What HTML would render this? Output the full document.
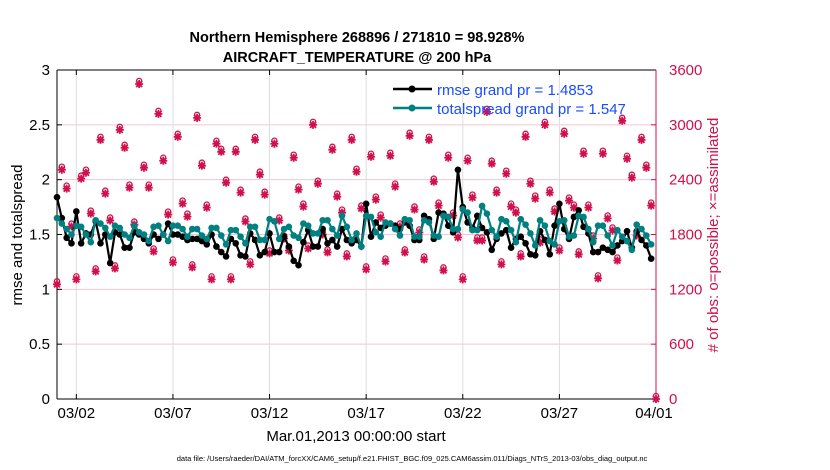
<!DOCTYPE html>
<html><head><meta charset="utf-8"><style>
body{margin:0;background:#fff;}
svg{display:block;font-family:"Liberation Sans",sans-serif;}
</style></head><body>
<svg id="chart" width="830" height="470" xmlns="http://www.w3.org/2000/svg">
<rect width="830" height="470" fill="#fff"/>
<text x="357" y="42" text-anchor="middle" font-size="14.5" font-weight="bold">Northern Hemisphere 268896 / 271810 = 98.928%</text>
<text x="357" y="62" text-anchor="middle" font-size="14.5" font-weight="bold">AIRCRAFT_TEMPERATURE @ 200 hPa</text>
<g id="grid"></g>
<g id="axes"></g>
<g id="marks"></g>
<text transform="translate(22,235) rotate(-90)" text-anchor="middle" font-size="15">rmse and totalspread</text>
<text transform="translate(718,235) rotate(-90)" text-anchor="middle" font-size="15" fill="#d0104c"># of obs: o=possible; ×=assimilated</text>
<text x="356" y="441" text-anchor="middle" font-size="15">Mar.01,2013 00:00:00 start</text>
<text x="412" y="461" text-anchor="middle" font-size="7.5">data file: /Users/raeder/DAI/ATM_forcXX/CAM6_setup/f.e21.FHIST_BGC.f09_025.CAM6assim.011/Diags_NTrS_2013-03/obs_diag_output.nc</text>
<g>
<line x1="393" y1="89" x2="432" y2="89" stroke="#000" stroke-width="2.5"/>
<circle cx="412" cy="89" r="3.5" fill="#000"/>
<text x="437" y="95" font-size="15" fill="#1a4cff">rmse grand pr = 1.4853</text>
<line x1="393" y1="108" x2="432" y2="108" stroke="#008080" stroke-width="2.5"/>
<circle cx="412" cy="108" r="3.5" fill="#008080"/>
<text x="437" y="114" font-size="15" fill="#1a4cff">totalspread grand pr = 1.547</text>
</g>
</svg>
<script>
const xTickLabels=["03/02","03/07","03/12","03/17","03/22","03/27","04/01"];
const xTickDays=[1,6,11,16,21,26,31];
const leftTicks=[0,0.5,1,1.5,2,2.5,3];
const rightTicks=[0,600,1200,1800,2400,3000,3600];
const rmse=[1.84,1.65,1.47,1.42,1.71,1.42,1.51,1.50,1.62,1.42,1.50,1.24,1.52,1.50,1.38,1.38,1.52,1.50,1.46,1.42,1.50,1.46,1.50,1.60,1.50,1.50,1.48,1.45,1.46,1.46,1.44,
1.41,1.50,1.39,1.34,1.30,1.46,1.42,1.31,1.30,1.51,1.45,1.31,1.34,1.51,1.34,1.34,1.48,1.39,1.26,1.22,1.43,1.54,1.39,1.39,1.55,1.42,1.45,1.39,1.55,1.45,1.42,
1.45,1.39,1.78,1.48,1.61,1.56,1.58,1.60,1.58,1.55,1.61,1.58,1.45,1.45,1.67,1.64,1.46,1.70,1.69,1.58,1.52,2.09,1.75,1.61,1.56,1.67,1.56,1.52,1.36,1.46,1.51,
1.54,1.38,1.46,1.48,1.42,1.32,1.31,1.53,1.45,1.32,1.58,1.78,1.55,1.46,1.66,1.72,1.57,1.51,1.34,1.34,1.38,1.36,1.34,1.40,1.44,1.53,1.38,1.53,1.45,1.40,1.28];
const spread=[1.65,1.60,1.55,1.50,1.58,1.57,1.50,1.43,1.63,1.60,1.56,1.48,1.58,1.56,1.50,1.47,1.58,1.52,1.50,1.44,1.57,1.58,1.50,1.44,1.58,1.58,1.55,1.48,1.55,1.55,1.49,
1.46,1.56,1.56,1.49,1.41,1.54,1.54,1.48,1.42,1.57,1.57,1.45,1.45,1.64,1.62,1.46,1.55,1.57,1.49,1.47,1.60,1.58,1.51,1.51,1.63,1.63,1.55,1.49,1.67,1.57,1.45,
1.51,1.39,1.67,1.66,1.52,1.48,1.61,1.60,1.55,1.49,1.64,1.63,1.48,1.48,1.63,1.61,1.49,1.48,1.67,1.66,1.55,1.55,1.73,1.70,1.54,1.54,1.76,1.69,1.54,1.48,1.64,
1.62,1.54,1.43,1.64,1.59,1.51,1.40,1.63,1.58,1.44,1.41,1.62,1.63,1.48,1.49,1.67,1.66,1.55,1.43,1.58,1.58,1.49,1.40,1.54,1.48,1.44,1.36,1.59,1.55,1.49,1.41];
const nobs=[1255,2509,2302,1887,1309,2411,2476,2029,1396,2836,2247,1953,1429,2945,2749,2313,1909,3447,2531,2313,1614,3120,2607,2018,1494,2869,2138,1996,1440,3076,2553,2094,1309,2793,2705,2367,1309,2705,2258,1942,1473,2836,
2455,2236,1593,2793,1953,1756,1625,2640,2291,2105,1647,3000,2356,1800,1604,2727,2214,2040,1560,2836,2487,2084,1418,2651,2182,1985,1505,2662,2324,1887,1604,2880,2073,1822,1527,2836,2378,2116,1407,2640,2007,
1767,1309,2607,2204,1735,1735,3142,2575,2258,1473,2465,2105,2040,1560,2869,2356,2193,1713,3000,2258,2051,1625,2902,2171,2094,1582,2684,2094,1756,1320,2684,1975,1844,1516,3044,2629,2422,1789,2836,2531,2116,0];
const NS="http://www.w3.org/2000/svg";
const XL=57,XR=656,YT=70,YB=399;
const xs=d=>XL+d/31*(XR-XL);
const yL=v=>YB-v/3*(YB-YT);
const yR=v=>YB-v/3600*(YB-YT);
function mk(tag,attrs,parent){const e=document.createElementNS(NS,tag);for(const k in attrs)e.setAttribute(k,attrs[k]);parent.appendChild(e);return e;}
const grid=document.getElementById('grid'),axes=document.getElementById('axes'),marks=document.getElementById('marks');
const PINK="#d0104c";
leftTicks.forEach((v,i)=>{
  if(v>0&&v<3){const g=mk('line',{x1:XL,x2:XR,y1:yL(v),y2:yL(v),stroke:"#f2c6d4","stroke-width":1},grid);
  
  }
  const t=mk('text',{x:XL-7,y:yL(v)+5,"text-anchor":"end","font-size":15},axes);t.textContent=v;
  
  
  mk('line',{x1:XL,x2:XL+5,y1:yL(v),y2:yL(v),stroke:"#000"},axes);
});
rightTicks.forEach(v=>{
  const t=mk('text',{x:XR+13,y:yR(v)+5,"font-size":15,fill:PINK},axes);t.textContent=v;
  
  
  mk('line',{x1:XR-5,x2:XR,y1:yR(v),y2:yR(v),stroke:PINK},axes);
});
xTickDays.forEach((d,i)=>{
  const g=mk('line',{x1:xs(d),x2:xs(d),y1:YT,y2:YB,stroke:"#dddddd"},grid);
  
  
  mk('line',{x1:xs(d),x2:xs(d),y1:YB,y2:YB-5,stroke:"#000"},axes);
  mk('line',{x1:xs(d),x2:xs(d),y1:YT,y2:YT+5,stroke:"#000"},axes);
  const t=mk('text',{x:xs(d)+(i==6?-2:0),y:YB+19,"text-anchor":"middle","font-size":15},axes);t.textContent=xTickLabels[i];
  
  
});
mk('line',{x1:XL,x2:XR,y1:YT,y2:YT,stroke:"#000"},axes);
mk('line',{x1:XL,x2:XR,y1:YB,y2:YB,stroke:"#000"},axes);
mk('line',{x1:XL,x2:XL,y1:YT,y2:YB,stroke:"#000"},axes);
mk('line',{x1:XR,x2:XR,y1:YT,y2:YB,stroke:PINK},axes);
// obs counts
nobs.forEach((c,i)=>{
  const x=xs(i/4),y=yR(c);
  const g=mk('g',{},marks);
  
  
  mk('circle',{cx:x,cy:y-3,r:2.6,fill:"none",stroke:PINK,"stroke-width":1.3},g);
  mk('path',{d:`M${x-4},${y}h8M${x},${y-4}v8M${x-3},${y-3}l6,6M${x+3},${y-3}l-6,6`,stroke:PINK,"stroke-width":1.8},g);
});
function series(arr,color,name){
  const pts=arr.map((v,i)=>xs(i/4).toFixed(1)+","+yL(v).toFixed(1)).join(" ");
  const pl=mk('polyline',{points:pts,fill:"none",stroke:color,"stroke-width":2.2},marks);
  
  
  arr.forEach((v,i)=>{const c=mk('circle',{cx:xs(i/4),cy:yL(v),r:3.3,fill:color},marks);
    
    });
}
series(rmse,"#000","rmse");
series(spread,"#008080","totalspread");
</script>
</body></html>
